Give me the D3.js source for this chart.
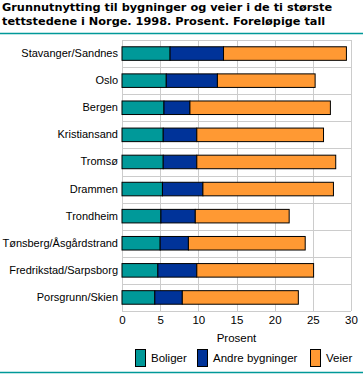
<!DOCTYPE html>
<html>
<head>
<meta charset="utf-8">
<script src="https://cdn.jsdelivr.net/npm/d3@7"></script>
<style>
  body { margin: 0; background: #fff; }
  svg { display: block; font-family: "Liberation Sans", Arial, sans-serif; }
</style>
</head>
<body>
<div id="chart"></div>
<script>
const cities = ["Stavanger/Sandnes", "Oslo", "Bergen", "Kristiansand", "Tromsø",
  "Drammen", "Trondheim", "Tønsberg/Åsgårdstrand", "Fredrikstad/Sarpsborg", "Porsgrunn/Skien"];
const boliger = [6.3, 5.8, 5.5, 5.4, 5.4, 5.3, 5.1, 5.0, 4.7, 4.3];
const andre = [7.0, 6.7, 3.4, 4.4, 4.4, 5.3, 4.5, 3.7, 5.1, 3.6];
const veier = [16.1, 12.8, 18.4, 16.6, 18.2, 17.1, 12.3, 15.3, 15.3, 15.2];
const seriesNames = ["Boliger", "Andre bygninger", "Veier"];
const colors = ["#009999", "#003399", "#ff9933"];
const xTicks = [0, 5, 10, 15, 20, 25, 30];

const W = 363, H = 374;
const plot = { left: 122, right: 351, top: 40, bottom: 311 };
const labelFont = "11.5px";

const svg = d3.select("#chart").append("svg")
  .attr("width", W)
  .attr("height", H);

// title
const title = svg.append("text")
  .style("font-family", "'DejaVu Sans', sans-serif")
  .style("font-size", "11.3px")
  .style("font-weight", "bold");
title.append("tspan").attr("x", 2).attr("y", 11)
  .text("Grunnutnytting til bygninger og veier i de ti største");
title.append("tspan").attr("x", 2).attr("y", 25)
  .text("tettstedene i Norge. 1998. Prosent. Foreløpige tall");

svg.append("line")
  .attr("x1", 0).attr("x2", W)
  .attr("y1", 33.5).attr("y2", 33.5)
  .attr("stroke", "#009999")
  .attr("stroke-width", 1.5);

svg.append("line")
  .attr("x1", 0).attr("x2", W)
  .attr("y1", 372.5).attr("y2", 372.5)
  .attr("stroke", "#009999")
  .attr("stroke-width", 1.5);

// scales
const x = d3.scaleLinear()
  .domain([0, 30])
  .range([plot.left, plot.right]);

const y = d3.scaleBand()
  .domain(cities)
  .range([plot.top, plot.bottom])
  .paddingInner(0.5)
  .paddingOuter(0.25);

// grid
const grid = svg.append("g")
  .attr("stroke", "#cccccc")
  .attr("stroke-width", 1)
  .attr("shape-rendering", "crispEdges");

grid.selectAll(".vgrid")
  .data(xTicks)
  .join("line")
  .attr("x1", d => Math.round(x(d)) + 0.5)
  .attr("x2", d => Math.round(x(d)) + 0.5)
  .attr("y1", plot.top)
  .attr("y2", plot.bottom);

const step = y.step();
const bounds = d3.range(cities.length + 1).map(i => plot.top + i * step);
grid.selectAll(".hgrid")
  .data(bounds)
  .join("line")
  .attr("x1", plot.left)
  .attr("x2", plot.right)
  .attr("y1", d => Math.round(d) + 0.5)
  .attr("y2", d => Math.round(d) + 0.5);

// stacked bars
const rows = cities.map((c, i) => ({ city: c, Boliger: boliger[i], "Andre bygninger": andre[i], Veier: veier[i] }));
const stacked = d3.stack().keys(seriesNames)(rows);

svg.append("g")
  .selectAll("g")
  .data(stacked)
  .join("g")
  .attr("fill", (d, i) => colors[i])
  .selectAll("rect")
  .data(d => d)
  .join("rect")
  .attr("x", d => x(d[0]))
  .attr("y", d => y(d.data.city))
  .attr("width", d => x(d[1]) - x(d[0]))
  .attr("height", y.bandwidth())
  .attr("stroke", "#000")
  .attr("stroke-width", 1);

// axes
const xAxis = d3.axisBottom(x).tickValues(xTicks).tickSize(0).tickPadding(5);
svg.append("g")
  .attr("transform", `translate(0,${plot.bottom})`)
  .call(xAxis)
  .call(g => g.select(".domain").remove())
  .call(g => g.selectAll("text")
    .style("font-family", "'Liberation Sans', sans-serif")
    .style("font-size", labelFont)
    .attr("fill", "#000"));

const yAxis = d3.axisLeft(y).tickSize(0).tickPadding(4);
svg.append("g")
  .attr("transform", `translate(${plot.left},0)`)
  .call(yAxis)
  .call(g => g.select(".domain").remove())
  .call(g => g.selectAll("text")
    .style("font-family", "'Liberation Sans', sans-serif")
    .style("font-size", "11px")
    .attr("fill", "#000"));

// x label
svg.append("text")
  .attr("x", (plot.left + plot.right) / 2)
  .attr("y", 342)
  .attr("text-anchor", "middle")
  .style("font-size", labelFont)
  .text("Prosent");

// legend
const legendPos = [135, 197, 310];
const legend = svg.append("g")
  .selectAll("g")
  .data(seriesNames)
  .join("g")
  .attr("transform", (d, i) => `translate(${legendPos[i]},349)`);

legend.append("rect")
  .attr("x", 0.5).attr("y", 0.5)
  .attr("width", 10).attr("height", 17)
  .attr("fill", (d, i) => colors[i])
  .attr("stroke", "#000");

legend.append("text")
  .attr("x", 16)
  .attr("y", 13)
  .style("font-size", labelFont)
  .text(d => d);
</script>
</body>
</html>
